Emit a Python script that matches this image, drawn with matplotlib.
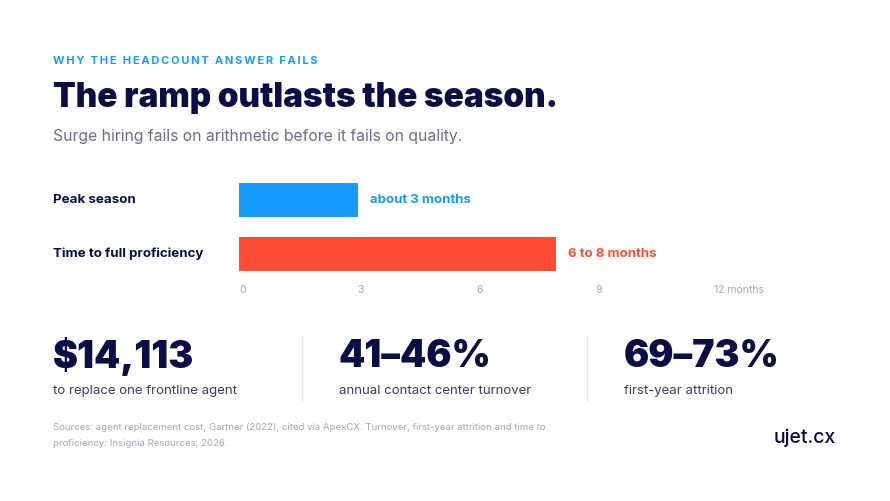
import matplotlib
matplotlib.use("Agg")
import matplotlib.pyplot as plt

# data
categories = ["Peak season", "Time to full proficiency"]
months = [3, 8]
bar_notes = ["about 3 months", "6 to 8 months"]
tick_vals = [0, 3, 6, 9, 12]
tick_labels = ["0", "3", "6", "9", "12 months"]
stat_values = ["$14,113", "41\u201346%", "69\u201373%"]
stat_labels = ["to replace one frontline agent", "annual contact center turnover", "first-year attrition"]

navy = "#0b0e45"
blue = "#179cfd"
red = "#ff4d35"
grey = "#6b6e8a"
light = "#a3a6ba"
font = "Inter"

W, H = 890, 501
fig = plt.figure(figsize=(W / 100, H / 100), dpi=100)
fig.set_facecolor("white")

def px(x, y):
    return x / W, 1 - y / H

def txt(x, y, s, **kw):
    kw.setdefault("family", [font, "DejaVu Sans"])
    kw.setdefault("va", "center")
    fig.text(*px(x, y), s, **kw)

# header (thin spaces fake the letter spacing)
eyebrow = "WHY THE HEADCOUNT ANSWER FAILS"
txt(53, 61, "\u2009".join(eyebrow), fontsize=8, weight="bold", color=blue)
txt(53, 98, "The ramp outlasts the season.", fontsize=24, weight="black", color=navy)
txt(53, 137, "Surge hiring fails on arithmetic before it fails on quality.", fontsize=11.3, color=grey)

# bars
ax = fig.add_axes([239 / W, 1 - 281 / H, 475 / W, 108 / H])
colors = [blue, red]
ypos = list(range(len(categories)))
ax.barh(ypos, months, height=0.63, color=colors, zorder=2)
ax.set_xlim(0, 12)
ax.set_ylim(1.5, -0.5)
ax.set_xticks(tick_vals)
ax.set_xticklabels(tick_labels, ha="left", fontsize=7.5, color=light, family=font)
ax.tick_params(axis="x", length=0, pad=3)
ax.set_yticks([])
for s in ax.spines.values():
    s.set_visible(False)
for i, (v, note) in enumerate(zip(months, bar_notes)):
    ax.text(v + 0.3, i, note, va="center", ha="left", fontsize=9.5, weight="bold", color=colors[i], family=font)
for i, c in enumerate(categories):
    txt(53, 200 + i * 54, c, fontsize=9.6, weight="bold", color=navy)

# stats
col_x = [53, 339, 624]
for i, (v, lab) in enumerate(zip(stat_values, stat_labels)):
    txt(col_x[i], 357, v, fontsize=27, weight="black", color=navy)
    txt(col_x[i], 391, lab, fontsize=9.5, color="#3b3e5e")
for xd in [302, 587]:
    fig.add_artist(plt.Line2D([xd / W, xd / W], [1 - 336 / H, 1 - 400 / H], color="#e3e4ea", lw=1))

# footer
txt(53, 428, "Sources: agent replacement cost, Gartner (2022), cited via ApexCX. Turnover, first-year attrition and time to",
    fontsize=6.9, color=light)
txt(53, 443, "proficiency: Insignia Resources, 2026.", fontsize=6.9, color=light)
txt(774, 438, "ujet.cx", fontsize=14, weight="medium", color=navy)

fig.savefig("out.png", dpi=100, facecolor="white")
